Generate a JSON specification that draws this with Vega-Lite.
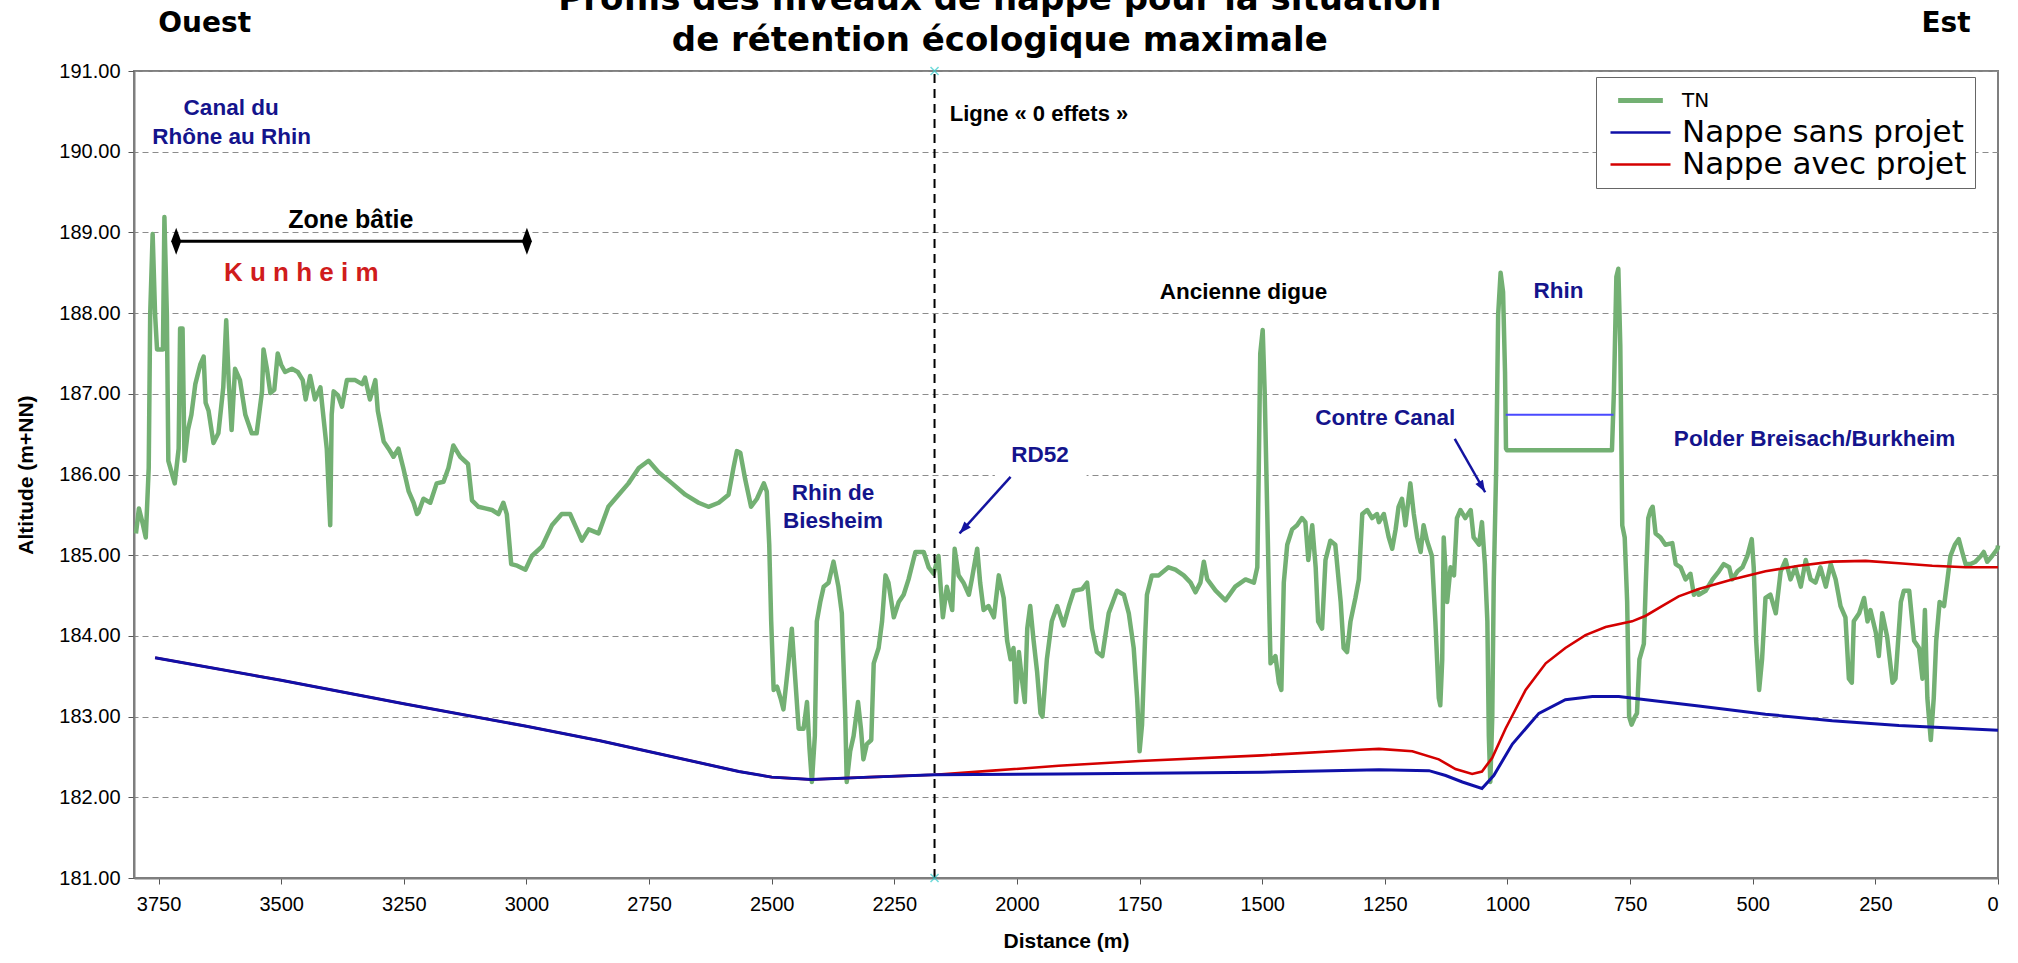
{
  "$schema": "https://vega.github.io/schema/vega-lite/v6.json",
  "width": 1864,
  "height": 807,
  "autosize": {"type": "none"},
  "padding": {"left": 134, "top": 71, "right": 20, "bottom": 85},
  "background": "white",
  "config": {
    "view": {"stroke": "#7f7f7f", "strokeWidth": 2},
    "axis": {"labelFont": "Liberation Sans", "labelFontSize": 20, "labelColor": "black", "titleFont": "Liberation Sans", "titleFontSize": 21, "titleFontWeight": "bold", "titleColor": "black", "domainColor": "#7f7f7f", "domainWidth": 2, "tickColor": "#555", "tickSize": 6}
  },
  "datasets": {
    "prof": [
      {"d":3796,"a":185.27,"s":"TN"},{"d":3790,"a":185.58,"s":"TN"},{"d":3783,"a":185.41,"s":"TN"},{"d":3776,"a":185.22,"s":"TN"},{"d":3770,"a":186.08,"s":"TN"},{"d":3767,"a":187.98,"s":"TN"},{"d":3762,"a":188.98,"s":"TN"},{"d":3757,"a":187.98,"s":"TN"},{"d":3753,"a":187.55,"s":"TN"},{"d":3741,"a":187.55,"s":"TN"},{"d":3738,"a":189.19,"s":"TN"},{"d":3733,"a":187.98,"s":"TN"},{"d":3730,"a":186.17,"s":"TN"},{"d":3717,"a":185.89,"s":"TN"},{"d":3709,"a":186.32,"s":"TN"},{"d":3706,"a":187.81,"s":"TN"},{"d":3701,"a":187.81,"s":"TN"},{"d":3697,"a":186.17,"s":"TN"},{"d":3690,"a":186.55,"s":"TN"},{"d":3683,"a":186.74,"s":"TN"},{"d":3675,"a":187.12,"s":"TN"},{"d":3665,"a":187.36,"s":"TN"},{"d":3658,"a":187.46,"s":"TN"},{"d":3654,"a":186.89,"s":"TN"},{"d":3648,"a":186.79,"s":"TN"},{"d":3638,"a":186.39,"s":"TN"},{"d":3628,"a":186.51,"s":"TN"},{"d":3618,"a":187.08,"s":"TN"},{"d":3612,"a":187.91,"s":"TN"},{"d":3607,"a":187.17,"s":"TN"},{"d":3601,"a":186.55,"s":"TN"},{"d":3594,"a":187.31,"s":"TN"},{"d":3584,"a":187.17,"s":"TN"},{"d":3573,"a":186.74,"s":"TN"},{"d":3560,"a":186.51,"s":"TN"},{"d":3550,"a":186.51,"s":"TN"},{"d":3539,"a":187.03,"s":"TN"},{"d":3536,"a":187.55,"s":"TN"},{"d":3529,"a":187.31,"s":"TN"},{"d":3522,"a":187.01,"s":"TN"},{"d":3514,"a":187.05,"s":"TN"},{"d":3507,"a":187.5,"s":"TN"},{"d":3500,"a":187.36,"s":"TN"},{"d":3492,"a":187.27,"s":"TN"},{"d":3478,"a":187.31,"s":"TN"},{"d":3466,"a":187.27,"s":"TN"},{"d":3456,"a":187.17,"s":"TN"},{"d":3450,"a":186.93,"s":"TN"},{"d":3441,"a":187.22,"s":"TN"},{"d":3431,"a":186.93,"s":"TN"},{"d":3420,"a":187.08,"s":"TN"},{"d":3416,"a":186.84,"s":"TN"},{"d":3407,"a":186.32,"s":"TN"},{"d":3400,"a":185.37,"s":"TN"},{"d":3397,"a":186.74,"s":"TN"},{"d":3393,"a":187.03,"s":"TN"},{"d":3384,"a":186.98,"s":"TN"},{"d":3376,"a":186.84,"s":"TN"},{"d":3366,"a":187.17,"s":"TN"},{"d":3349,"a":187.17,"s":"TN"},{"d":3335,"a":187.12,"s":"TN"},{"d":3329,"a":187.2,"s":"TN"},{"d":3319,"a":186.93,"s":"TN"},{"d":3308,"a":187.17,"s":"TN"},{"d":3303,"a":186.79,"s":"TN"},{"d":3291,"a":186.41,"s":"TN"},{"d":3281,"a":186.32,"s":"TN"},{"d":3271,"a":186.22,"s":"TN"},{"d":3261,"a":186.32,"s":"TN"},{"d":3251,"a":186.08,"s":"TN"},{"d":3240,"a":185.79,"s":"TN"},{"d":3230,"a":185.65,"s":"TN"},{"d":3223,"a":185.51,"s":"TN"},
      {"d":3220,"a":185.53,"s":"TN"},{"d":3210,"a":185.7,"s":"TN"},{"d":3196,"a":185.65,"s":"TN"},{"d":3183,"a":185.89,"s":"TN"},{"d":3169,"a":185.91,"s":"TN"},{"d":3159,"a":186.08,"s":"TN"},{"d":3149,"a":186.36,"s":"TN"},{"d":3135,"a":186.22,"s":"TN"},{"d":3119,"a":186.13,"s":"TN"},{"d":3111,"a":185.68,"s":"TN"},{"d":3098,"a":185.6,"s":"TN"},{"d":3084,"a":185.58,"s":"TN"},{"d":3070,"a":185.56,"s":"TN"},{"d":3057,"a":185.51,"s":"TN"},{"d":3047,"a":185.65,"s":"TN"},{"d":3040,"a":185.51,"s":"TN"},{"d":3031,"a":184.89,"s":"TN"},{"d":3019,"a":184.87,"s":"TN"},{"d":3002,"a":184.82,"s":"TN"},{"d":2989,"a":184.99,"s":"TN"},{"d":2968,"a":185.11,"s":"TN"},{"d":2948,"a":185.37,"s":"TN"},{"d":2928,"a":185.51,"s":"TN"},{"d":2911,"a":185.51,"s":"TN"},{"d":2897,"a":185.32,"s":"TN"},{"d":2887,"a":185.18,"s":"TN"},{"d":2873,"a":185.32,"s":"TN"},{"d":2853,"a":185.27,"s":"TN"},{"d":2833,"a":185.6,"s":"TN"},{"d":2812,"a":185.75,"s":"TN"},{"d":2792,"a":185.89,"s":"TN"},{"d":2771,"a":186.08,"s":"TN"},{"d":2751,"a":186.17,"s":"TN"},{"d":2731,"a":186.03,"s":"TN"},{"d":2703,"a":185.89,"s":"TN"},{"d":2676,"a":185.75,"s":"TN"},{"d":2649,"a":185.65,"s":"TN"},{"d":2629,"a":185.6,"s":"TN"},{"d":2608,"a":185.65,"s":"TN"},{"d":2588,"a":185.75,"s":"TN"},{"d":2578,"a":186.08,"s":"TN"},{"d":2571,"a":186.29,"s":"TN"},
      {"d":2564,"a":186.27,"s":"TN"},{"d":2554,"a":185.94,"s":"TN"},{"d":2542,"a":185.6,"s":"TN"},{"d":2530,"a":185.7,"s":"TN"},{"d":2516,"a":185.89,"s":"TN"},{"d":2510,"a":185.79,"s":"TN"},{"d":2505,"a":185.13,"s":"TN"},{"d":2501,"a":184.18,"s":"TN"},{"d":2496,"a":183.33,"s":"TN"},{"d":2489,"a":183.37,"s":"TN"},{"d":2482,"a":183.23,"s":"TN"},{"d":2476,"a":183.09,"s":"TN"},{"d":2465,"a":183.71,"s":"TN"},{"d":2459,"a":184.09,"s":"TN"},{"d":2452,"a":183.47,"s":"TN"},{"d":2445,"a":182.85,"s":"TN"},{"d":2435,"a":182.85,"s":"TN"},{"d":2428,"a":183.18,"s":"TN"},{"d":2423,"a":182.61,"s":"TN"},{"d":2418,"a":182.19,"s":"TN"},{"d":2412,"a":182.76,"s":"TN"},{"d":2408,"a":184.18,"s":"TN"},{"d":2401,"a":184.42,"s":"TN"},{"d":2394,"a":184.61,"s":"TN"},{"d":2384,"a":184.66,"s":"TN"},{"d":2374,"a":184.92,"s":"TN"},{"d":2364,"a":184.61,"s":"TN"},{"d":2357,"a":184.28,"s":"TN"},{"d":2350,"a":183.0,"s":"TN"},{"d":2347,"a":182.19,"s":"TN"},{"d":2340,"a":182.57,"s":"TN"},{"d":2333,"a":182.76,"s":"TN"},{"d":2324,"a":183.18,"s":"TN"},{"d":2318,"a":182.85,"s":"TN"},{"d":2313,"a":182.47,"s":"TN"},{"d":2306,"a":182.66,"s":"TN"},{"d":2297,"a":182.71,"s":"TN"},{"d":2292,"a":183.66,"s":"TN"},{"d":2282,"a":183.85,"s":"TN"},{"d":2275,"a":184.18,"s":"TN"},{"d":2268,"a":184.75,"s":"TN"},{"d":2262,"a":184.66,"s":"TN"},{"d":2251,"a":184.23,"s":"TN"},{"d":2241,"a":184.42,"s":"TN"},{"d":2231,"a":184.51,"s":"TN"},{"d":2221,"a":184.7,"s":"TN"},{"d":2207,"a":185.04,"s":"TN"},{"d":2190,"a":185.04,"s":"TN"},{"d":2180,"a":184.85,"s":"TN"},{"d":2170,"a":184.77,"s":"TN"},{"d":2160,"a":184.99,"s":"TN"},{"d":2151,"a":184.23,"s":"TN"},{"d":2143,"a":184.61,"s":"TN"},{"d":2132,"a":184.32,"s":"TN"},{"d":2127,"a":185.08,"s":"TN"},{"d":2119,"a":184.75,"s":"TN"},{"d":2109,"a":184.66,"s":"TN"},{"d":2098,"a":184.51,"s":"TN"},{"d":2092,"a":184.7,"s":"TN"},{"d":2081,"a":185.08,"s":"TN"},{"d":2075,"a":184.66,"s":"TN"},{"d":2068,"a":184.32,"s":"TN"},{"d":2058,"a":184.37,"s":"TN"},{"d":2047,"a":184.23,"s":"TN"},{"d":2037,"a":184.75,"s":"TN"},{"d":2027,"a":184.47,"s":"TN"},{"d":2020,"a":183.94,"s":"TN"},{"d":2013,"a":183.71,"s":"TN"},{"d":2007,"a":183.85,"s":"TN"},{"d":2002,"a":183.18,"s":"TN"},{"d":1996,"a":183.8,"s":"TN"},{"d":1990,"a":183.47,"s":"TN"},{"d":1984,"a":183.18,"s":"TN"},{"d":1979,"a":184.09,"s":"TN"},{"d":1973,"a":184.37,"s":"TN"},{"d":1966,"a":183.94,"s":"TN"},{"d":1959,"a":183.56,"s":"TN"},{"d":1952,"a":183.04,"s":"TN"},{"d":1948,"a":183.0,"s":"TN"},{"d":1939,"a":183.71,"s":"TN"},{"d":1929,"a":184.18,"s":"TN"},{"d":1918,"a":184.37,"s":"TN"},
      {"d":1905,"a":184.13,"s":"TN"},{"d":1894,"a":184.37,"s":"TN"},{"d":1884,"a":184.56,"s":"TN"},{"d":1867,"a":184.58,"s":"TN"},{"d":1857,"a":184.66,"s":"TN"},{"d":1847,"a":184.09,"s":"TN"},{"d":1837,"a":183.8,"s":"TN"},{"d":1826,"a":183.75,"s":"TN"},{"d":1813,"a":184.28,"s":"TN"},{"d":1796,"a":184.56,"s":"TN"},{"d":1782,"a":184.51,"s":"TN"},{"d":1772,"a":184.28,"s":"TN"},{"d":1762,"a":183.85,"s":"TN"},{"d":1755,"a":183.23,"s":"TN"},{"d":1750,"a":182.57,"s":"TN"},{"d":1745,"a":182.9,"s":"TN"},{"d":1739,"a":183.94,"s":"TN"},{"d":1735,"a":184.51,"s":"TN"},{"d":1725,"a":184.75,"s":"TN"},{"d":1711,"a":184.75,"s":"TN"},{"d":1691,"a":184.85,"s":"TN"},{"d":1677,"a":184.82,"s":"TN"},{"d":1660,"a":184.75,"s":"TN"},{"d":1646,"a":184.66,"s":"TN"},{"d":1636,"a":184.54,"s":"TN"},{"d":1626,"a":184.66,"s":"TN"},{"d":1619,"a":184.92,"s":"TN"},{"d":1612,"a":184.7,"s":"TN"},{"d":1595,"a":184.56,"s":"TN"},{"d":1575,"a":184.44,"s":"TN"},{"d":1555,"a":184.61,"s":"TN"},{"d":1534,"a":184.7,"s":"TN"},{"d":1517,"a":184.66,"s":"TN"},{"d":1510,"a":184.85,"s":"TN"},{"d":1507,"a":186.08,"s":"TN"},{"d":1504,"a":187.5,"s":"TN"},{"d":1499,"a":187.79,"s":"TN"},{"d":1495,"a":187.03,"s":"TN"},{"d":1490,"a":185.6,"s":"TN"},{"d":1485,"a":184.18,"s":"TN"},{"d":1483,"a":183.66,"s":"TN"},{"d":1473,"a":183.75,"s":"TN"},{"d":1466,"a":183.42,"s":"TN"},{"d":1461,"a":183.33,"s":"TN"},{"d":1456,"a":184.66,"s":"TN"},{"d":1449,"a":185.13,"s":"TN"},{"d":1439,"a":185.32,"s":"TN"},{"d":1429,"a":185.37,"s":"TN"},{"d":1419,"a":185.46,"s":"TN"},{"d":1412,"a":185.41,"s":"TN"},{"d":1406,"a":184.94,"s":"TN"},{"d":1398,"a":185.37,"s":"TN"},{"d":1391,"a":184.85,"s":"TN"},{"d":1386,"a":184.18,"s":"TN"},{"d":1378,"a":184.09,"s":"TN"},{"d":1371,"a":184.94,"s":"TN"},{"d":1361,"a":185.18,"s":"TN"},{"d":1351,"a":185.13,"s":"TN"},{"d":1340,"a":184.42,"s":"TN"},{"d":1334,"a":183.85,"s":"TN"},{"d":1327,"a":183.8,"s":"TN"},{"d":1320,"a":184.18,"s":"TN"},{"d":1310,"a":184.47,"s":"TN"},{"d":1303,"a":184.7,"s":"TN"},{"d":1296,"a":185.51,"s":"TN"},{"d":1286,"a":185.56,"s":"TN"},{"d":1276,"a":185.46,"s":"TN"},{"d":1266,"a":185.51,"s":"TN"},
      {"d":1262,"a":185.41,"s":"TN"},{"d":1252,"a":185.51,"s":"TN"},{"d":1242,"a":185.22,"s":"TN"},{"d":1235,"a":185.08,"s":"TN"},{"d":1228,"a":185.32,"s":"TN"},{"d":1222,"a":185.6,"s":"TN"},{"d":1215,"a":185.7,"s":"TN"},{"d":1208,"a":185.37,"s":"TN"},{"d":1198,"a":185.89,"s":"TN"},{"d":1191,"a":185.51,"s":"TN"},{"d":1184,"a":185.22,"s":"TN"},{"d":1177,"a":185.04,"s":"TN"},{"d":1171,"a":185.37,"s":"TN"},{"d":1164,"a":185.18,"s":"TN"},{"d":1154,"a":184.99,"s":"TN"},{"d":1147,"a":184.18,"s":"TN"},{"d":1140,"a":183.23,"s":"TN"},{"d":1137,"a":183.14,"s":"TN"},{"d":1133,"a":183.71,"s":"TN"},{"d":1130,"a":185.22,"s":"TN"},{"d":1123,"a":184.42,"s":"TN"},{"d":1116,"a":184.85,"s":"TN"},{"d":1109,"a":184.75,"s":"TN"},{"d":1103,"a":185.46,"s":"TN"},{"d":1096,"a":185.56,"s":"TN"},{"d":1086,"a":185.46,"s":"TN"},{"d":1075,"a":185.56,"s":"TN"},{"d":1069,"a":185.22,"s":"TN"},{"d":1058,"a":185.13,"s":"TN"},{"d":1052,"a":185.41,"s":"TN"},{"d":1046,"a":184.89,"s":"TN"},{"d":1041,"a":184.18,"s":"TN"},{"d":1038,"a":182.76,"s":"TN"},{"d":1035,"a":182.19,"s":"TN"},{"d":1031,"a":183.0,"s":"TN"},{"d":1028,"a":184.66,"s":"TN"},{"d":1023,"a":186.08,"s":"TN"},{"d":1019,"a":187.98,"s":"TN"},{"d":1014,"a":188.5,"s":"TN"},{"d":1009,"a":188.26,"s":"TN"},{"d":1005,"a":187.27,"s":"TN"},{"d":1003,"a":186.32,"s":"TN"},{"d":1001,"a":186.3,"s":"TN"},{"d":787,"a":186.3,"s":"TN"},{"d":783,"a":187.03,"s":"TN"},{"d":778,"a":188.45,"s":"TN"},{"d":774,"a":188.55,"s":"TN"},{"d":770,"a":187.6,"s":"TN"},{"d":766,"a":185.37,"s":"TN"},{"d":761,"a":185.22,"s":"TN"},{"d":756,"a":184.42,"s":"TN"},{"d":752,"a":183.0,"s":"TN"},{"d":747,"a":182.9,"s":"TN"},{"d":740,"a":183.0,"s":"TN"},{"d":736,"a":183.04,"s":"TN"},{"d":731,"a":183.71,"s":"TN"},{"d":722,"a":183.9,"s":"TN"},{"d":718,"a":184.66,"s":"TN"},{"d":713,"a":185.46,"s":"TN"},{"d":708,"a":185.56,"s":"TN"},{"d":704,"a":185.6,"s":"TN"},{"d":698,"a":185.27,"s":"TN"},{"d":688,"a":185.22,"s":"TN"},{"d":678,"a":185.13,"s":"TN"},{"d":664,"a":185.15,"s":"TN"},{"d":657,"a":184.89,"s":"TN"},{"d":647,"a":184.85,"s":"TN"},{"d":637,"a":184.7,"s":"TN"},{"d":627,"a":184.77,"s":"TN"},{"d":620,"a":184.51,"s":"TN"},{"d":613,"a":184.56,"s":"TN"},
      {"d":610,"a":184.51,"s":"TN"},{"d":596,"a":184.56,"s":"TN"},{"d":582,"a":184.7,"s":"TN"},{"d":569,"a":184.8,"s":"TN"},{"d":559,"a":184.89,"s":"TN"},{"d":548,"a":184.85,"s":"TN"},{"d":542,"a":184.7,"s":"TN"},{"d":531,"a":184.8,"s":"TN"},{"d":521,"a":184.85,"s":"TN"},{"d":511,"a":184.99,"s":"TN"},{"d":502,"a":185.2,"s":"TN"},{"d":498,"a":184.85,"s":"TN"},{"d":493,"a":183.94,"s":"TN"},{"d":487,"a":183.33,"s":"TN"},{"d":481,"a":183.71,"s":"TN"},{"d":474,"a":184.47,"s":"TN"},{"d":464,"a":184.51,"s":"TN"},{"d":453,"a":184.28,"s":"TN"},{"d":443,"a":184.8,"s":"TN"},{"d":433,"a":184.94,"s":"TN"},{"d":423,"a":184.7,"s":"TN"},{"d":413,"a":184.85,"s":"TN"},{"d":402,"a":184.61,"s":"TN"},{"d":392,"a":184.94,"s":"TN"},{"d":382,"a":184.7,"s":"TN"},{"d":372,"a":184.66,"s":"TN"},{"d":362,"a":184.85,"s":"TN"},{"d":351,"a":184.61,"s":"TN"},{"d":341,"a":184.89,"s":"TN"},{"d":331,"a":184.7,"s":"TN"},{"d":321,"a":184.37,"s":"TN"},{"d":311,"a":184.23,"s":"TN"},{"d":304,"a":183.47,"s":"TN"},{"d":298,"a":183.42,"s":"TN"},{"d":294,"a":184.18,"s":"TN"},{"d":283,"a":184.28,"s":"TN"},{"d":273,"a":184.47,"s":"TN"},{"d":266,"a":184.18,"s":"TN"},{"d":260,"a":184.32,"s":"TN"},{"d":249,"a":184.04,"s":"TN"},{"d":243,"a":183.75,"s":"TN"},{"d":236,"a":184.28,"s":"TN"},{"d":226,"a":183.99,"s":"TN"},{"d":215,"a":183.42,"s":"TN"},{"d":209,"a":183.47,"s":"TN"},{"d":198,"a":184.42,"s":"TN"},{"d":192,"a":184.56,"s":"TN"},{"d":181,"a":184.56,"s":"TN"},{"d":171,"a":183.94,"s":"TN"},{"d":161,"a":183.85,"s":"TN"},{"d":154,"a":183.47,"s":"TN"},{"d":149,"a":184.32,"s":"TN"},{"d":144,"a":183.23,"s":"TN"},{"d":137,"a":182.71,"s":"TN"},{"d":131,"a":183.23,"s":"TN"},{"d":126,"a":183.94,"s":"TN"},{"d":119,"a":184.42,"s":"TN"},{"d":110,"a":184.37,"s":"TN"},{"d":103,"a":184.7,"s":"TN"},{"d":97,"a":184.99,"s":"TN"},{"d":88,"a":185.13,"s":"TN"},{"d":80,"a":185.2,"s":"TN"},{"d":73,"a":185.04,"s":"TN"},{"d":66,"a":184.89,"s":"TN"},{"d":56,"a":184.89,"s":"TN"},{"d":46,"a":184.92,"s":"TN"},{"d":35,"a":184.99,"s":"TN"},{"d":29,"a":185.04,"s":"TN"},{"d":22,"a":184.92,"s":"TN"},{"d":12,"a":184.99,"s":"TN"},{"d":1,"a":185.08,"s":"TN"},{"d":0,"a":185.12,"s":"TN"},
      {"d":3757,"a":183.73,"s":"Nappe sans projet"},{"d":3500,"a":183.45,"s":"Nappe sans projet"},{"d":3250,"a":183.16,"s":"Nappe sans projet"},{"d":3000,"a":182.88,"s":"Nappe sans projet"},{"d":2850,"a":182.7,"s":"Nappe sans projet"},{"d":2700,"a":182.5,"s":"Nappe sans projet"},{"d":2567,"a":182.32,"s":"Nappe sans projet"},{"d":2500,"a":182.25,"s":"Nappe sans projet"},{"d":2420,"a":182.22,"s":"Nappe sans projet"},{"d":2300,"a":182.25,"s":"Nappe sans projet"},{"d":2168,"a":182.28,"s":"Nappe sans projet"},{"d":1915,"a":182.29,"s":"Nappe sans projet"},{"d":1500,"a":182.31,"s":"Nappe sans projet"},{"d":1262,"a":182.34,"s":"Nappe sans projet"},{"d":1160,"a":182.33,"s":"Nappe sans projet"},{"d":1126,"a":182.27,"s":"Nappe sans projet"},{"d":1092,"a":182.19,"s":"Nappe sans projet"},{"d":1052,"a":182.11,"s":"Nappe sans projet"},{"d":1028,"a":182.27,"s":"Nappe sans projet"},{"d":990,"a":182.66,"s":"Nappe sans projet"},{"d":936,"a":183.04,"s":"Nappe sans projet"},{"d":882,"a":183.21,"s":"Nappe sans projet"},{"d":827,"a":183.25,"s":"Nappe sans projet"},{"d":773,"a":183.25,"s":"Nappe sans projet"},{"d":718,"a":183.21,"s":"Nappe sans projet"},{"d":610,"a":183.13,"s":"Nappe sans projet"},{"d":474,"a":183.03,"s":"Nappe sans projet"},{"d":338,"a":182.95,"s":"Nappe sans projet"},{"d":202,"a":182.89,"s":"Nappe sans projet"},{"d":0,"a":182.83,"s":"Nappe sans projet"},
      {"d":3757,"a":183.73,"s":"Nappe avec projet"},{"d":3500,"a":183.45,"s":"Nappe avec projet"},{"d":3250,"a":183.16,"s":"Nappe avec projet"},{"d":3000,"a":182.88,"s":"Nappe avec projet"},{"d":2850,"a":182.7,"s":"Nappe avec projet"},{"d":2700,"a":182.5,"s":"Nappe avec projet"},{"d":2567,"a":182.32,"s":"Nappe avec projet"},{"d":2500,"a":182.25,"s":"Nappe avec projet"},{"d":2420,"a":182.22,"s":"Nappe avec projet"},{"d":2300,"a":182.25,"s":"Nappe avec projet"},{"d":2168,"a":182.28,"s":"Nappe avec projet"},{"d":2050,"a":182.33,"s":"Nappe avec projet"},{"d":1915,"a":182.39,"s":"Nappe avec projet"},{"d":1750,"a":182.45,"s":"Nappe avec projet"},{"d":1500,"a":182.52,"s":"Nappe avec projet"},{"d":1300,"a":182.59,"s":"Nappe avec projet"},{"d":1262,"a":182.6,"s":"Nappe avec projet"},{"d":1194,"a":182.57,"s":"Nappe avec projet"},{"d":1140,"a":182.47,"s":"Nappe avec projet"},{"d":1106,"a":182.35,"s":"Nappe avec projet"},{"d":1072,"a":182.29,"s":"Nappe avec projet"},{"d":1052,"a":182.32,"s":"Nappe avec projet"},{"d":1031,"a":182.49,"s":"Nappe avec projet"},{"d":1004,"a":182.85,"s":"Nappe avec projet"},{"d":963,"a":183.33,"s":"Nappe avec projet"},{"d":922,"a":183.66,"s":"Nappe avec projet"},{"d":882,"a":183.85,"s":"Nappe avec projet"},{"d":841,"a":184.01,"s":"Nappe avec projet"},{"d":800,"a":184.11,"s":"Nappe avec projet"},{"d":746,"a":184.18,"s":"Nappe avec projet"},{"d":718,"a":184.25,"s":"Nappe avec projet"},{"d":685,"a":184.37,"s":"Nappe avec projet"},{"d":651,"a":184.49,"s":"Nappe avec projet"},{"d":610,"a":184.58,"s":"Nappe avec projet"},{"d":542,"a":184.7,"s":"Nappe avec projet"},{"d":474,"a":184.8,"s":"Nappe avec projet"},{"d":406,"a":184.87,"s":"Nappe avec projet"},{"d":338,"a":184.92,"s":"Nappe avec projet"},{"d":270,"a":184.93,"s":"Nappe avec projet"},{"d":202,"a":184.9,"s":"Nappe avec projet"},{"d":134,"a":184.87,"s":"Nappe avec projet"},{"d":66,"a":184.85,"s":"Nappe avec projet"},{"d":0,"a":184.85,"s":"Nappe avec projet"}
    ],
    "labels": [
      {"d":3602,"a":190.54,"t":"Canal du","k":"blue"},
      {"d":3601,"a":190.18,"t":"Rhône au Rhin","k":"blue"},
      {"d":2375,"a":185.77,"t":"Rhin de","k":"blue"},
      {"d":2375,"a":185.42,"t":"Biesheim","k":"blue"},
      {"d":1953,"a":186.24,"t":"RD52","k":"blue"},
      {"d":1249,"a":186.7,"t":"Contre Canal","k":"blue"},
      {"d":896,"a":188.27,"t":"Rhin","k":"blue"},
      {"d":374,"a":186.44,"t":"Polder Breisach/Burkheim","k":"blue"},
      {"d":3358,"a":189.15,"t":"Zone bâtie","k":"zone"},
      {"d":1538,"a":188.26,"t":"Ancienne digue","k":"black"},
      {"d":3459,"a":188.5,"t":"K u n h e i m","k":"red"},
      {"d":2137,"a":190.47,"t":"Ligne « 0 effets »","k":"ligne"},
      {"d":3656,"a":191.58,"t":"Ouest","k":"dir"},
      {"d":106,"a":191.58,"t":"Est","k":"dir"},
      {"d":2035,"a":191.76,"t":"Profils des niveaux de nappe pour la situation","k":"title"},
      {"d":2035,"a":191.25,"t":"de rétention écologique maximale","k":"title"}
    ]
  },
  "data": {"name": "prof"},
  "encoding": {
    "x": {"field": "d", "type": "quantitative", "title": "Distance (m)",
      "scale": {"domain": [0, 3800], "reverse": true, "nice": false, "zero": false},
      "axis": {"values": [0,250,500,750,1000,1250,1500,1750,2000,2250,2500,2750,3000,3250,3500,3750], "format": "d", "grid": false, "labelPadding": 10, "titlePadding": 16}},
    "y": {"field": "a", "type": "quantitative", "title": "Altitude (m+NN)",
      "scale": {"domain": [181, 191], "nice": false, "zero": false},
      "axis": {"values": [181,182,183,184,185,186,187,188,189,190,191], "format": ".2f", "grid": true, "gridColor": "#8c8c8c", "gridDash": [6, 4], "gridWidth": 1, "labelPadding": 8, "titlePadding": 22}}
  },
  "layer": [
    {
      "data": {"values": [{"d": 2045, "d2": 1858, "a": 185.95, "a2": 186.5}]},
      "mark": {"type": "rect", "color": "white"},
      "encoding": {"x2": {"field": "d2"}, "y2": {"field": "a2"}}
    },
    {
      "transform": [{"filter": "datum.s === 'TN'"}],
      "mark": {"type": "line", "strokeWidth": 4.5, "strokeJoin": "round"},
      "encoding": {
        "color": {"field": "s", "type": "nominal",
          "scale": {"domain": ["TN", "Nappe sans projet", "Nappe avec projet"], "range": ["#73b073", "#1010a8", "#d40000"]},
          "legend": {"title": null, "orient": "none", "legendX": 1462, "legendY": 6, "fillColor": "white", "strokeColor": "#666", "padding": 8, "rowPadding": 0, "gridAlign": "all",
            "symbolType": "stroke", "symbolSize": 3600, "symbolStrokeWidth": 2.5, "symbolOffset": 21, "labelFont": "DejaVu Sans", "labelFontSize": 31, "labelColor": "black", "labelOffset": 26, "labelLimit": 400,
            "encode": {"symbols": {"update": {"strokeWidth": {"signal": "datum.label === 'TN' ? 5 : 2.5"}, "size": {"signal": "datum.label === 'TN' ? 2000 : 3600"}}}, "labels": {"update": {"fontSize": {"signal": "datum.label === 'TN' ? 20 : 31"}}}}}
        }
      }
    },
    {
      "transform": [{"filter": "datum.s === 'Nappe avec projet'"}],
      "mark": {"type": "line", "strokeWidth": 2.6},
      "encoding": {"color": {"field": "s", "type": "nominal"}}
    },
    {
      "transform": [{"filter": "datum.s === 'Nappe sans projet'"}],
      "mark": {"type": "line", "strokeWidth": 3},
      "encoding": {"color": {"field": "s", "type": "nominal"}}
    },
    {
      "data": {"values": [{"d": 1003.5, "d2": 783.7, "a": 186.74}]},
      "mark": {"type": "rule", "color": "#4a4aff", "strokeWidth": 2},
      "encoding": {"x2": {"field": "d2"}}
    },
    {
      "data": {"values": [{"d": 2168, "a": 181, "a2": 191}]},
      "mark": {"type": "rule", "color": "black", "strokeWidth": 2, "strokeDash": [9, 6]},
      "encoding": {"y2": {"field": "a2"}}
    },
    {
      "data": {"values": [{"d": 2168, "a": 191}, {"d": 2168, "a": 181}]},
      "mark": {"type": "point", "shape": "M-1,-1L1,1M-1,1L1,-1", "filled": false, "color": "#33cccc", "strokeWidth": 1.5, "size": 64, "clip": false},
      "encoding": {}
    },
    {
      "data": {"values": [{"d": 3714, "d2": 2999, "a": 188.89}]},
      "mark": {"type": "rule", "color": "black", "strokeWidth": 3},
      "encoding": {"x2": {"field": "d2"}}
    },
    {
      "data": {"values": [{"d": 3714, "a": 188.89}, {"d": 2999, "a": 188.89}]},
      "mark": {"type": "point", "shape": "M0,-1L0.37,0L0,1L-0.37,0Z", "filled": true, "color": "black", "opacity": 1, "size": 729},
      "encoding": {}
    },
    {
      "data": {"values": [{"d": 2013, "a": 185.97, "d2": 2117, "a2": 185.27}, {"d": 1107.5, "a": 186.44, "d2": 1045.5, "a2": 185.78}]},
      "mark": {"type": "rule", "color": "#1414a0", "strokeWidth": 2.5},
      "encoding": {"x2": {"field": "d2"}, "y2": {"field": "a2"}}
    },
    {
      "data": {"values": [{"d": 2117, "a": 185.27}]},
      "mark": {"type": "point", "shape": "M0,0L0.36,1L-0.36,1Z", "filled": true, "color": "#1414a0", "opacity": 1, "size": 576, "angle": 222},
      "encoding": {}
    },
    {
      "data": {"values": [{"d": 1045.5, "a": 185.78}]},
      "mark": {"type": "point", "shape": "M0,0L0.36,1L-0.36,1Z", "filled": true, "color": "#1414a0", "opacity": 1, "size": 576, "angle": 150},
      "encoding": {}
    },
    {
      "data": {"name": "labels"},
      "transform": [{"filter": "datum.k === 'blue'"}],
      "mark": {"type": "text", "font": "Liberation Sans", "fontWeight": "bold", "fontSize": 22.5, "color": "#14148c", "align": "center", "baseline": "middle"},
      "encoding": {"text": {"field": "t"}}
    },
    {
      "data": {"name": "labels"},
      "transform": [{"filter": "datum.k === 'black'"}],
      "mark": {"type": "text", "font": "Liberation Sans", "fontWeight": "bold", "fontSize": 22.5, "color": "black", "align": "center", "baseline": "middle"},
      "encoding": {"text": {"field": "t"}}
    },
    {
      "data": {"name": "labels"},
      "transform": [{"filter": "datum.k === 'zone'"}],
      "mark": {"type": "text", "font": "Liberation Sans", "fontWeight": "bold", "fontSize": 25, "color": "black", "align": "center", "baseline": "middle"},
      "encoding": {"text": {"field": "t"}}
    },
    {
      "data": {"name": "labels"},
      "transform": [{"filter": "datum.k === 'red'"}],
      "mark": {"type": "text", "font": "Liberation Sans", "fontWeight": "bold", "fontSize": 26, "color": "#d01c1c", "align": "center", "baseline": "middle"},
      "encoding": {"text": {"field": "t"}}
    },
    {
      "data": {"name": "labels"},
      "transform": [{"filter": "datum.k === 'ligne'"}],
      "mark": {"type": "text", "font": "Liberation Sans", "fontWeight": "bold", "fontSize": 22, "color": "black", "align": "left", "baseline": "middle"},
      "encoding": {"text": {"field": "t"}}
    },
    {
      "data": {"name": "labels"},
      "transform": [{"filter": "datum.k === 'dir'"}],
      "mark": {"type": "text", "font": "DejaVu Sans", "fontWeight": "bold", "fontSize": 28, "color": "black", "align": "center", "baseline": "middle"},
      "encoding": {"text": {"field": "t"}}
    },
    {
      "data": {"name": "labels"},
      "transform": [{"filter": "datum.k === 'title'"}],
      "mark": {"type": "text", "font": "DejaVu Sans", "fontWeight": "bold", "fontSize": 34, "color": "black", "align": "center", "baseline": "alphabetic"},
      "encoding": {"text": {"field": "t"}}
    }
  ]
}
